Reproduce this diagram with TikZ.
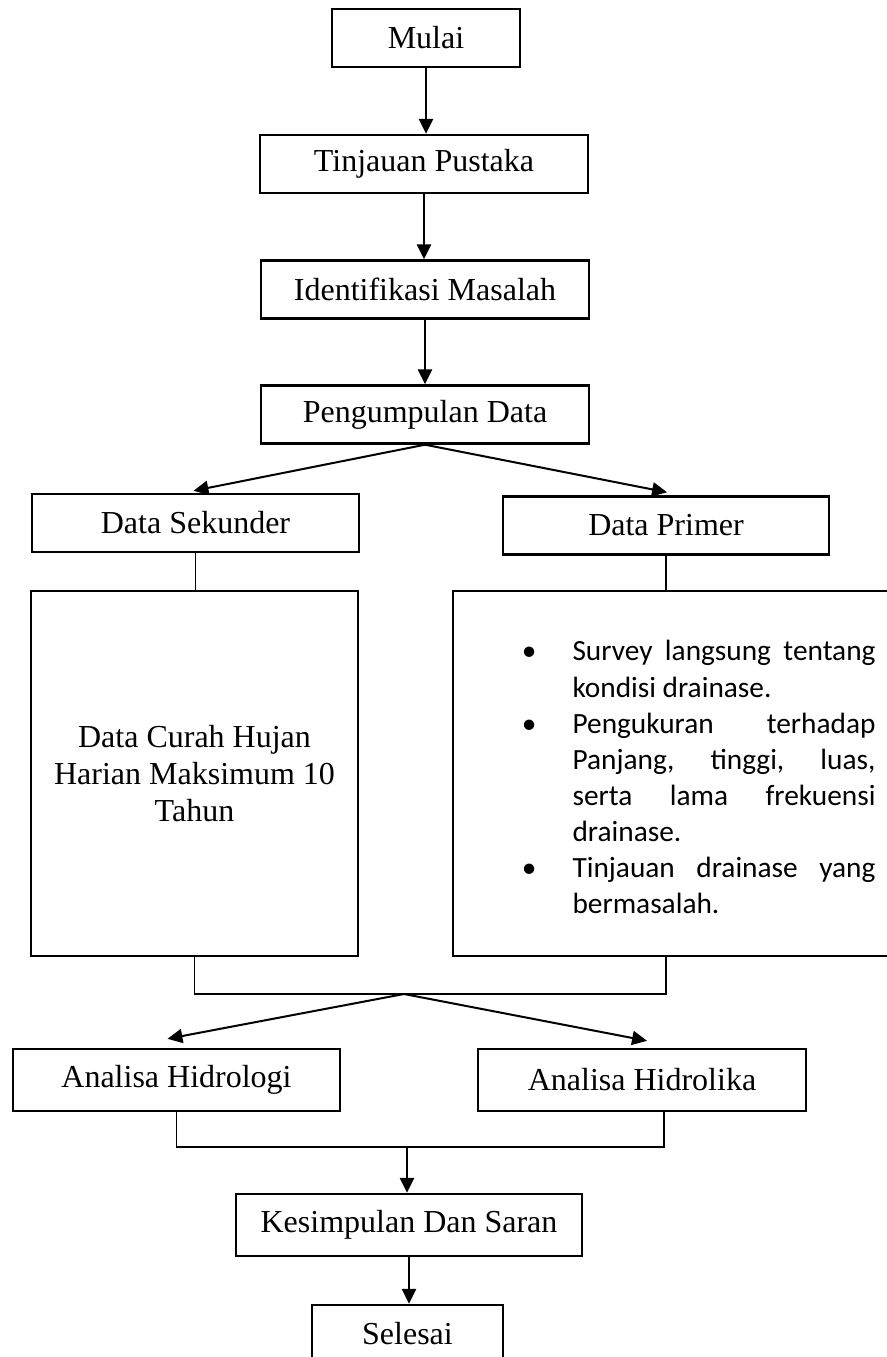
\documentclass[tikz,border=0pt]{standalone}
\usepackage{fontspec}
\setmainfont{Liberation Serif}
\newfontfamily\calibri{Carlito}
\usetikzlibrary{arrows.meta,calc}
\newcommand\rata[1]{\makebox[113.6pt][s]{#1}}
\newcommand\titik{\llap{\textbullet\hspace{13.5pt}}}
\tikzset{
	kotak/.style={draw, line width=0.9pt, minimum height=21.75pt, inner sep=0pt, font=\fontsize{12}{14}\selectfont},
	daftar/.style={inner sep=0pt, align=left, font=\calibri\fontsize{11}{13.55}\selectfont},
	panah/.style={line width=0.75pt, -{Triangle[length=5.6pt,width=5.3pt]}},
	garis/.style={line width=0.4pt}
}

\begin{document}
\begin{tikzpicture}[x=0.375pt, y=-0.375pt]
			%%%%% START %%%%%
			\useasboundingbox (0, 0) rectangle (886, 1357);
			
			\node[kotak, minimum width=70.5pt] (mulai) at (426, 38) {Mulai};
			\node[kotak, minimum width=123pt] (tinjauan) at (424, 164) {Tinjauan Pustaka};
			\node[kotak, minimum width=123pt] (identifikasi) at (425, 289.5) {Identifikasi Masalah};
			\node[kotak, minimum width=123pt] (pengumpulan) at (425, 414.5) {Pengumpulan Data};
			
			\node[kotak, minimum width=122.6pt] (sekunder) at (195.5, 523) {Data Sekunder};
			\node[kotak, minimum width=122.25pt] (primer) at (666, 525.5) {Data Primer};
			
			\node[kotak, minimum width=122.6pt, minimum height=136.9pt, align=center] (curah) at (194.5, 773.5) {Data Curah Hujan\\Harian Maksimum 10\\Tahun};
			\node[kotak, minimum width=164.6pt, minimum height=136.9pt] (lapangan) at (672.5, 773.5) {};
			\node[daftar, anchor=north west] (survei) at (572, 640) {%
				\titik\rata{Survey langsung tentang}\\
				kondisi drainase.\\
				\titik\rata{Pengukuran terhadap}\\
				\rata{Panjang, tinggi, luas,}\\
				\rata{serta lama frekuensi}\\
				drainase.\\
				\titik\rata{Tinjauan drainase yang}\\
				bermasalah.};
			
			\node[kotak, minimum width=122.6pt, minimum height=23.25pt] (hidrologi) at (176.5, 1080) {Analisa Hidrologi};
			\node[kotak, minimum width=123pt, minimum height=23.25pt] (hidrolika) at (642, 1080) {Analisa Hidrolika};
			
			\node[kotak, minimum width=129.75pt, minimum height=23.25pt] (kesimpulan) at (409, 1225) {Kesimpulan Dan Saran};
			\node[kotak, minimum width=71.6pt] (selesai) at (407.5, 1334) {Selesai};
			
			\coordinate (gabung1) at (404, 994);
			\coordinate (gabung2) at (407, 1147);
			
			\draw[panah] (mulai.south) -- (mulai.south |- tinjauan.north);
			\draw[panah] (tinjauan.south) -- (tinjauan.south |- identifikasi.north);
			\draw[panah] (identifikasi.south) -- (identifikasi.south |- pengumpulan.north);
			\draw[panah] (pengumpulan.south) -- ($(sekunder.north)+(-2, -2)$);
			\draw[panah] (pengumpulan.south) -- ($(primer.north)+(1, -3)$);
			
			\draw[garis] (sekunder.south) -- (sekunder.south |- curah.north);
			\draw[garis] (primer.south) -- (primer.south |- lapangan.north);
			\draw[garis] (curah.south) |- (gabung1) -| (primer.south |- lapangan.south);
			
			\draw[panah] (gabung1) -- ($(hidrologi.north)+(-9, -9)$);
			\draw[panah] (gabung1) -- ($(hidrolika.north)+(5, -7)$);
			
			\draw[garis] (hidrologi.south) |- (gabung2) -| ($(hidrolika.south)+(22, 0)$);
			\draw[panah] (gabung2) -- (gabung2 |- kesimpulan.north);
			\draw[panah] (kesimpulan.south) -- (kesimpulan.south |- selesai.north);
			
			%%%%% END %%%%%
\end{tikzpicture}
\end{document}
